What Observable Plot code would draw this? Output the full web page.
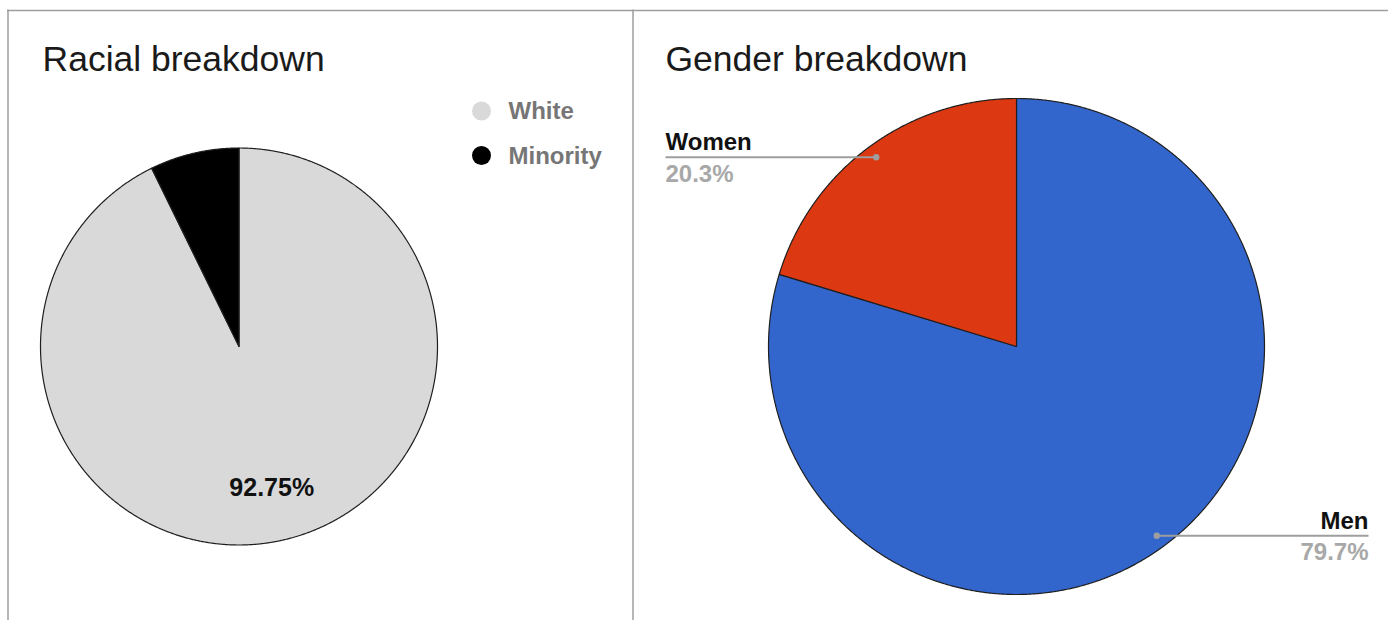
<!DOCTYPE html>
<html>
<head>
<meta charset="utf-8">
<script src="https://cdn.jsdelivr.net/npm/d3@7"></script>
<script src="https://cdn.jsdelivr.net/npm/@observablehq/plot@0.6"></script>
<style>
  html, body { margin: 0; padding: 0; background: #fff; }
  #chart svg { display: block; font-family: "Liberation Sans", Arial, sans-serif; }
</style>
</head>
<body>
<div id="chart"></div>
<script>
// ---- data ----
const racialTitle = "Racial breakdown";
const racialCategories = ["White", "Minority"];
const racialValues = [92.75, 7.25];

const genderTitle = "Gender breakdown";
const genderCategories = ["Men", "Women"];
const genderValues = [79.7, 20.3];

// ---- styles / layout ----
const W = 1388, H = 620;
const racialColors = {White: "#d9d9d9", Minority: "#000000"};
const genderColors = {Men: "#3366cc", Women: "#dc3912"};
const racialPie = {cx: 238.5, cy: 346, r: 198.5};
const genderPie = {cx: 1016, cy: 346, r: 248};
const borderColor = "#9e9e9e";
const font = "Liberation Sans, Arial, sans-serif";

function sliceArcs(cats, vals) {
  const arcs = d3.pie().sort(null).value(d => d)(vals);
  return arcs.map((a, i) => ({category: cats[i], value: vals[i], a0: a.startAngle, a1: a.endAngle, mid: (a.startAngle + a.endAngle) / 2}));
}
function polar(p, ang, f) {
  return {x: p.cx + f * p.r * Math.sin(ang), y: p.cy - f * p.r * Math.cos(ang)};
}
function slicePoints(arcs, p, colors, prefix) {
  const pts = [];
  for (const s of arcs) {
    const key = prefix + s.category;
    const n = Math.max(2, Math.ceil((s.a1 - s.a0) / (Math.PI / 720)));
    pts.push({key, color: colors[s.category], x: p.cx, y: p.cy});
    for (let k = 0; k <= n; k++) {
      const q = polar(p, s.a0 + (s.a1 - s.a0) * k / n, 1);
      pts.push({key, color: colors[s.category], ...q});
    }
    pts.push({key, color: colors[s.category], x: p.cx, y: p.cy});
  }
  return pts;
}

const racialArcs = sliceArcs(racialCategories, racialValues);
const genderArcs = sliceArcs(genderCategories, genderValues);
const piePoints = [
  ...slicePoints(racialArcs, racialPie, racialColors, "r-"),
  ...slicePoints(genderArcs, genderPie, genderColors, "g-")
];

// label inside big racial slice
const racialLabels = racialArcs.filter(s => s.value > 50).map(s => ({...polar(racialPie, s.mid, 0.73), text: s.value + "%"}));

// gender leader lines
const leaderX = {Women: 665, Men: 1368};
const genderLeaders = genderArcs.map(s => {
  const dot = polar(genderPie, s.mid, 0.95);
  return {category: s.category, value: s.value, pct: s.value + "%", dx: dot.x, dy: dot.y, lx: leaderX[s.category], left: leaderX[s.category] < dot.x};
});
const leftLeaders = genderLeaders.filter(d => d.left);
const rightLeaders = genderLeaders.filter(d => !d.left);

// legend
const legendItems = racialCategories.map((c, i) => ({category: c, x: 481, y: 110.5 + i * 44.5}));

function leaderTexts(data, anchor) {
  return [
    Plot.text(data, {x: "lx", y: d => d.dy - 7, text: "category", textAnchor: anchor, lineAnchor: "bottom", fontSize: 24, fontWeight: "bold", fill: "#111"}),
    Plot.text(data, {x: "lx", y: d => d.dy + 24.5, text: "pct", textAnchor: anchor, lineAnchor: "bottom", fontSize: 24, fontWeight: "bold", fill: "#a8a8a8"})
  ];
}

const chart = Plot.plot({
  width: W,
  height: H,
  margin: 0,
  x: {domain: [0, W], range: [0, W], axis: null},
  y: {domain: [0, H], range: [0, H], axis: null},
  color: {type: "identity"},
  style: {fontFamily: font},
  marks: [
    // panel borders
    Plot.ruleY([10], {x1: 7, x2: W, stroke: borderColor, strokeWidth: 1.5}),
    Plot.ruleX([7.5, 632.5], {y1: 9.5, y2: H, stroke: borderColor, strokeWidth: 1.5}),
    // titles
    Plot.text([racialTitle], {x: 42, y: 70, text: d => d, textAnchor: "start", lineAnchor: "bottom", fontSize: 35.5, fill: "#1a1a1a"}),
    Plot.text([genderTitle], {x: 665, y: 70, text: d => d, textAnchor: "start", lineAnchor: "bottom", fontSize: 35.5, fill: "#1a1a1a"}),
    // pies
    Plot.line(piePoints, {x: "x", y: "y", z: "key", fill: "color", stroke: "#1f1f1f", strokeWidth: 1.2, curve: "linear", strokeLinejoin: "round"}),
    // racial label
    Plot.text(racialLabels, {x: "x", y: "y", text: "text", fontSize: 25, fontWeight: "bold", fill: "#111", lineAnchor: "middle"}),
    // legend
    Plot.dot(legendItems, {x: "x", y: "y", r: 9.5, fill: d => racialColors[d.category], stroke: "none"}),
    Plot.text(legendItems, {x: d => d.x + 27, y: d => d.y + 8, text: "category", textAnchor: "start", lineAnchor: "bottom", fontSize: 24, fontWeight: "bold", fill: "#767676"}),
    // gender leader lines
    Plot.link(genderLeaders, {x1: "dx", y1: "dy", x2: "lx", y2: "dy", stroke: "#9e9e9e", strokeWidth: 2}),
    Plot.dot(genderLeaders, {x: "dx", y: "dy", r: 3.2, fill: "#9e9e9e", stroke: "none"}),
    ...leaderTexts(leftLeaders, "start"),
    ...leaderTexts(rightLeaders, "end")
  ]
});
document.getElementById("chart").appendChild(chart);
</script>
</body>
</html>
